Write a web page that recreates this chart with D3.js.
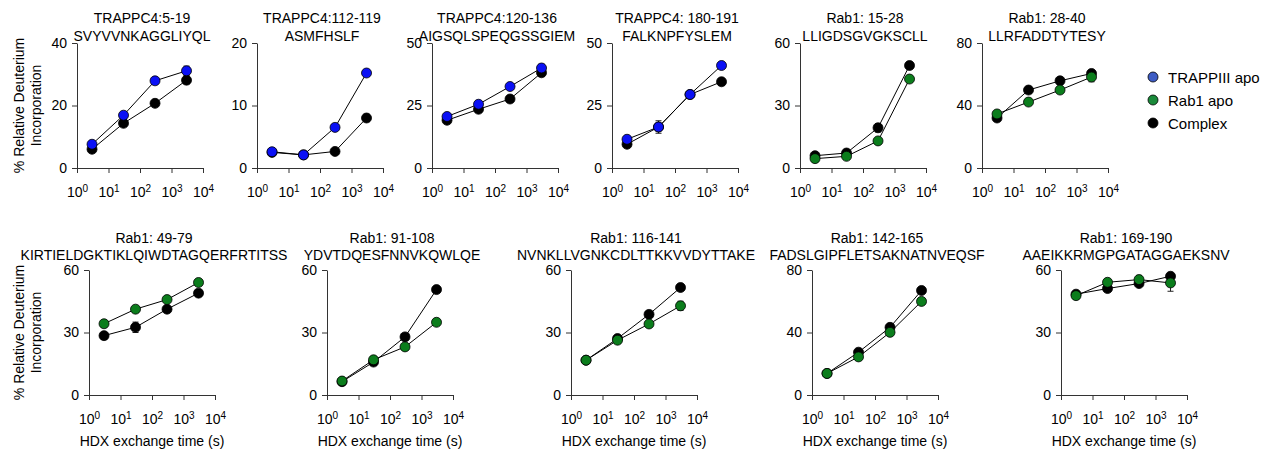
<!DOCTYPE html>
<html>
<head>
<meta charset="utf-8">
<script src="https://cdn.jsdelivr.net/npm/d3@7"></script>
<style>
  body { margin: 0; background: #fff; }
  svg { font-family: "Liberation Sans", Arial, sans-serif; }
</style>
</head>
<body>
<svg id="canvas"></svg>
<script>
// exchange times (s)
const times = [3, 30, 300, 3000];

const peptideNames = [
  "TRAPPC4:5-19", "TRAPPC4:112-119", "TRAPPC4:120-136", "TRAPPC4: 180-191",
  "Rab1: 15-28", "Rab1: 28-40",
  "Rab1: 49-79", "Rab1: 91-108", "Rab1: 116-141", "Rab1: 142-165", "Rab1: 169-190"
];
const sequences = [
  "SVYVVNKAGGLIYQL", "ASMFHSLF", "AIGSQLSPEQGSSGIEM", "FALKNPFYSLEM",
  "LLIGDSGVGKSCLL", "LLRFADDTYTESY",
  "KIRTIELDGKTIKLQIWDTAGQERFRTITSS", "YDVTDQESFNNVKQWLQE",
  "NVNKLLVGNKCDLTTKKVVDYTTAKE", "FADSLGIPFLETSAKNATNVEQSF", "AAEIKKRMGPGATAGGAEKSNV"
];
const yMaxes = [40, 20, 50, 50, 60, 80, 60, 60, 60, 80, 60];

// % deuterium incorporation, one row per peptide (null = not measured)
const trappiiiApo = [
  [7.6, 16.9, 27.9, 31.1],
  [2.6, 2.1, 6.5, 15.2],
  [20.6, 25.5, 32.6, 40.0],
  [11.5, 16.4, 29.4, 41.0],
  null, null, null, null, null, null, null
];
const trappiiiErr = [
  [0.6, 0.5, 0.6, 1.5],
  [0.5, 0.3, 0.3, 0.3],
  [0.6, 0.6, 0.5, 1.5],
  [0.5, 2.5, 0.5, 0.4],
  null, null, null, null, null, null, null
];
const rab1Apo = [
  null, null, null, null,
  [4.5, 5.6, 13.0, 42.7],
  [34.6, 42.2, 49.9, 58.2],
  [34.2, 41.2, 45.8, 54.0],
  [6.7, 16.9, 23.1, 34.9],
  [16.7, 26.3, 34.1, 42.8],
  [13.8, 24.4, 40.1, 59.9],
  [47.7, 54.1, 55.4, 53.8]
];
const rab1Err = [
  null, null, null, null,
  [0.5, 0.5, 0.5, 0.8],
  [0.8, 0.8, 0.8, 3.0],
  [0.5, 0.5, 0.5, 0.6],
  [0.5, 0.5, 0.5, 0.5],
  [0.5, 0.5, 0.6, 2.2],
  [0.5, 0.6, 0.6, 0.6],
  [1.2, 0.8, 2.0, 4.0]
];
const complex = [
  [6.0, 14.3, 20.7, 28.1],
  [2.5, 2.1, 2.65, 8.0],
  [19.1, 23.5, 27.6, 38.1],
  [9.5, 16.4, 29.4, 34.5],
  [5.9, 7.2, 19.3, 49.2],
  [32.0, 49.9, 55.8, 60.5],
  [28.5, 32.5, 41.2, 48.9],
  [6.4, 15.8, 27.9, 50.6],
  [16.7, 27.1, 38.7, 51.6],
  [13.8, 27.4, 43.3, 66.9],
  [48.4, 51.1, 53.5, 57.0]
];
const complexErr = [
  [0.6, 0.8, 0.6, 1.2],
  [0.4, 0.3, 0.3, 0.6],
  [0.6, 0.6, 0.5, 0.8],
  [0.5, 0.5, 0.5, 0.5],
  [0.5, 0.5, 2.0, 1.6],
  [0.6, 0.6, 0.6, 0.6],
  [0.5, 2.5, 0.5, 0.5],
  [0.5, 0.5, 0.5, 0.5],
  [0.5, 0.6, 0.6, 0.6],
  [0.5, 0.8, 0.6, 0.6],
  [0.8, 0.6, 0.6, 0.6]
];

const legendNames = ["TRAPPIII apo", "Rab1 apo", "Complex"];

// layout
const width = 1263, height = 452;
const plotW = 126, plotH = 125;
const panelLefts = [77, 257, 432, 612, 800, 982, 89, 327, 571, 812, 1061];
const rowTop = [43, 270];
const titleOffsets = [[-20, -2], [-27, -10]];

const colBlue = "#0a10f5", colGreen = "#0b7d1c", colBlack = "#000";

const svg = d3.select("#canvas").attr("width", width).attr("height", height);

peptideNames.forEach((name, i) => {
  const row = i < 6 ? 0 : 1;
  const left = panelLefts[i];
  const top = rowTop[row];
  const g = svg.append("g").attr("transform", `translate(${left},${top})`);

  const x = d3.scaleLog().domain([1, 10000]).range([0, plotW]);
  const y = d3.scaleLinear().domain([0, yMaxes[i]]).range([plotH, 0]);

  // titles
  g.append("text").attr("x", plotW / 2 + 2).attr("y", titleOffsets[row][0])
    .attr("text-anchor", "middle").attr("font-size", 14).text(name);
  g.append("text").attr("x", plotW / 2 + 2).attr("y", titleOffsets[row][1])
    .attr("text-anchor", "middle").attr("font-size", 14).text(sequences[i]);

  // axes
  const xAxis = d3.axisBottom(x).tickValues([1, 10, 100, 1000, 10000])
    .tickSize(5).tickSizeOuter(0).tickFormat(() => "");
  const xg = g.append("g").attr("transform", `translate(0,${plotH})`).call(xAxis);
  xg.select(".domain").attr("stroke", "#333");
  xg.selectAll(".tick line").attr("stroke", "#333");
  xg.selectAll(".tick").each(function (d) {
    const e = Math.round(Math.log10(d));
    const t = d3.select(this).append("text")
      .attr("y", 29).attr("fill", "#000").attr("font-size", 14)
      .attr("text-anchor", "middle");
    t.append("tspan").text("10");
    t.append("tspan").attr("dy", -5).attr("font-size", 10).text(e);
  });

  const yAxis = d3.axisLeft(y).tickValues([0, yMaxes[i] / 2, yMaxes[i]])
    .tickSize(5).tickSizeOuter(0).tickPadding(5);
  const yg = g.append("g").call(yAxis);
  yg.select(".domain").attr("stroke", "#333");
  yg.selectAll(".tick line").attr("stroke", "#333");
  yg.selectAll(".tick text").attr("font-size", 14).attr("fill", "#000")
    .attr("font-family", "Liberation Sans, Arial, sans-serif");

  if (i === 0 || i === 6) {
    const cy = plotH / 2;
    g.append("text").attr("transform", `translate(${19 - left},${cy}) rotate(-90)`)
      .attr("text-anchor", "middle").attr("dominant-baseline", "central")
      .attr("font-size", 14).text("% Relative Deuterium");
    g.append("text").attr("transform", `translate(${36 - left},${cy}) rotate(-90)`)
      .attr("text-anchor", "middle").attr("dominant-baseline", "central")
      .attr("font-size", 14).text("Incorporation");
  }
  if (row === 1) {
    g.append("text").attr("x", plotW / 2).attr("y", plotH + 51)
      .attr("text-anchor", "middle").attr("font-size", 14).text("HDX exchange time (s)");
  }

  const series = [
    { vals: complex[i], errs: complexErr[i], color: colBlack },
    { vals: trappiiiApo[i], errs: trappiiiErr[i], color: colBlue },
    { vals: rab1Apo[i], errs: rab1Err[i], color: colGreen }
  ].filter(s => s.vals);

  const line = d3.line().x((d, k) => x(times[k])).y(d => y(d));

  // lines first
  series.forEach(s => {
    g.append("path").datum(s.vals).attr("d", line)
      .attr("fill", "none").attr("stroke", "#000").attr("stroke-width", 1);
  });
  // error bars
  series.forEach(s => {
    const eb = g.append("g").attr("stroke", "#222").attr("stroke-width", 1);
    s.vals.forEach((v, k) => {
      const cx = x(times[k]);
      const y1 = y(v + s.errs[k]), y2 = y(v - s.errs[k]);
      eb.append("line").attr("x1", cx).attr("x2", cx).attr("y1", y1).attr("y2", y2);
      eb.append("line").attr("x1", cx - 3).attr("x2", cx + 3).attr("y1", y1).attr("y2", y1);
      eb.append("line").attr("x1", cx - 3).attr("x2", cx + 3).attr("y1", y2).attr("y2", y2);
    });
  });
  // points
  series.forEach(s => {
    g.selectAll(null).data(s.vals).enter().append("circle")
      .attr("cx", (d, k) => x(times[k])).attr("cy", d => y(d)).attr("r", 5)
      .attr("fill", s.color).attr("stroke", "#000").attr("stroke-width", 0.8);
  });
});

// legend
const legendColors = ["#3d5cc4", "#1a8a3a", "#000"];
const lg = svg.append("g").attr("transform", "translate(1153,77)");
legendNames.forEach((n, k) => {
  lg.append("circle").attr("cx", 0).attr("cy", k * 23).attr("r", 5)
    .attr("fill", legendColors[k]).attr("stroke", "#000").attr("stroke-width", 0.8);
  lg.append("text").attr("x", 15).attr("y", k * 23).attr("dominant-baseline", "central")
    .attr("font-size", 15).text(n);
});
</script>
</body>
</html>
